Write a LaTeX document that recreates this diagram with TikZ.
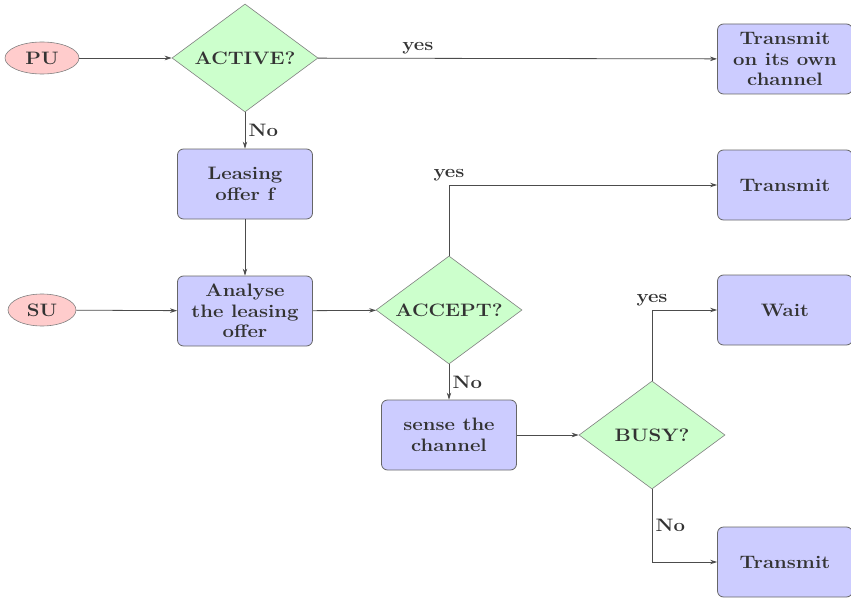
\documentclass[tikz,border=0pt]{standalone}
\usepackage{fontspec}
\setmainfont{Latin Modern Roman}[FakeStretch=1.13]
\usetikzlibrary{shapes.geometric,arrows.meta}
\begin{document}
\begin{tikzpicture}[x=1pt,y=-1pt,
  every node/.style={font=\fontsize{18}{20.5}\selectfont\bfseries, text=black!80},
  proc/.style={draw=black!60, fill=blue!20, rounded corners=6pt, align=center,
    minimum width=135pt, minimum height=70pt, inner sep=2pt, line width=0.8pt},
  decision/.style={draw=black!50, fill=green!20, diamond, aspect=1.35, inner sep=0pt,
    minimum width=146pt, minimum height=108pt, line width=0.6pt},
  terminal/.style={draw=black!50, fill=red!20, ellipse, inner sep=0pt,
    minimum height=32pt, line width=0.6pt},
  lbl/.style={font=\fontsize{18}{20}\selectfont\bfseries, text=black!80},
  flow/.style={draw=black!70, line width=0.8pt, -{Stealth[length=7pt,width=4.5pt]}}]
\useasboundingbox (0,0) rectangle (851,599);

% sources
\node[terminal, minimum width=74pt] (pu) at (42,58) {PU};
\node[terminal, minimum width=68pt] (su) at (42,310) {SU};

% decisions
\node[decision] (active) at (245,58) {ACTIVE?};
\node[decision] (accept) at (449,310) {ACCEPT?};
\node[decision] (busy) at (652,435) {BUSY?};

% processes
\node[proc] (own) at (785,59) {Transmit\\on its own\\channel};
\node[proc] (lease) at (245,184) {Leasing\\offer f};
\node[proc] (analyse) at (245,311) {Analyse\\the leasing\\offer};
\node[proc] (tx1) at (785,185) {Transmit};
\node[proc] (wait) at (785,310) {Wait};
\node[proc] (sense) at (449,435) {sense the\\channel};
\node[proc] (tx2) at (785,562) {Transmit};

% connectors
\draw[flow] (pu) -- (active);
\draw[flow] (active) -- node[lbl, above, pos=0.25] (l1) {yes} (own);
\draw[flow] (active) -- node[lbl, right, pos=0.5] (l2) {No} (lease);
\draw[flow] (lease) -- (analyse);
\draw[flow] (su) -- (analyse);
\draw[flow] (analyse) -- (accept);
\draw[flow] (accept.north) |- node[lbl, above, pos=0.5] (l3) {yes} (tx1);
\draw[flow] (accept) -- node[lbl, right, pos=0.5] (l4) {No} (sense);
\draw[flow] (sense) -- (busy);
\draw[flow] (busy.north) |- node[lbl, above, pos=0.5] (l5) {yes} (wait);
\draw[flow] (busy.south) |- node[lbl, right, pos=0.25] (l6) {No} (tx2);
\end{tikzpicture}
\end{document}
